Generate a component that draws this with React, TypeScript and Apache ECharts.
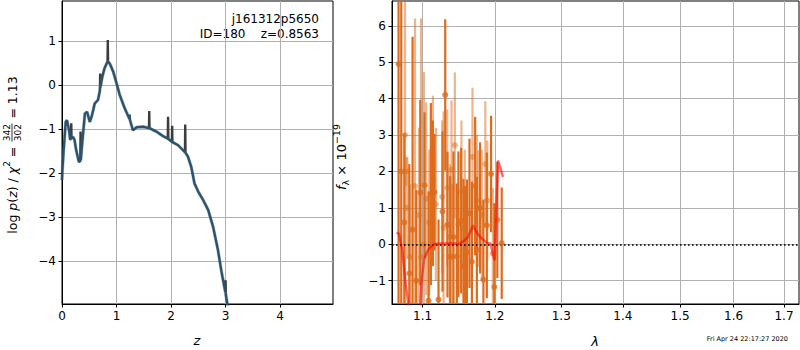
import { useEffect, useRef } from 'react';
import * as echarts from 'echarts';

// ---------- Left panel: log p(z) ----------
const zSmooth = [0.0, 0.007, 0.03, 0.068, 0.09, 0.13, 0.15, 0.2, 0.23, 0.26, 0.31, 0.34, 0.37, 0.42, 0.46, 0.51, 0.55, 0.6, 0.66, 0.7, 0.74, 0.78, 0.83, 0.875, 0.94, 1.0, 1.06, 1.15, 1.24, 1.3, 1.37, 1.49, 1.6, 1.73, 1.85, 1.945, 2.02, 2.13, 2.25, 2.31, 2.37, 2.43, 2.5, 2.59, 2.68, 2.77, 2.86, 2.92, 3.0, 3.03, 3.05];
const logpSmooth = [-2.15, -1.93, -1.47, -0.83, -0.79, -1.02, -1.22, -1.17, -1.24, -1.47, -1.74, -1.7, -1.32, -0.64, -0.6, -0.83, -0.68, -0.41, -0.33, -0.07, 0.2, 0.39, 0.54, 0.5, 0.31, 0.05, -0.22, -0.52, -0.75, -1.02, -0.95, -0.94, -0.97, -1.05, -1.15, -1.21, -1.28, -1.36, -1.51, -1.62, -1.85, -2.23, -2.42, -2.61, -2.83, -3.21, -3.74, -4.2, -4.73, -4.95, -5.1];

const zRaw = [0.0, 0.007, 0.03, 0.068, 0.09, 0.13, 0.15, 0.165, 0.17, 0.175, 0.2, 0.23, 0.26, 0.31, 0.335, 0.34, 0.345, 0.37, 0.42, 0.46, 0.51, 0.55, 0.6, 0.66, 0.695, 0.7, 0.705, 0.74, 0.78, 0.835, 0.84, 0.845, 0.875, 0.94, 1.0, 1.06, 1.15, 1.235, 1.24, 1.245, 1.3, 1.37, 1.49, 1.595, 1.6, 1.605, 1.73, 1.85, 1.94, 1.945, 1.95, 2.015, 2.02, 2.025, 2.13, 2.255, 2.26, 2.265, 2.31, 2.37, 2.43, 2.5, 2.59, 2.68, 2.77, 2.86, 2.92, 2.995, 3.0, 3.005, 3.03, 3.05];
const logpRaw = [-2.15, -1.93, -1.47, -0.83, -0.79, -1.02, -1.24, -1.2, -0.86, -1.2, -1.17, -1.24, -1.47, -1.74, -1.72, -1.05, -1.7, -1.32, -0.64, -0.6, -0.83, -0.68, -0.41, -0.33, -0.12, 0.27, -0.04, 0.2, 0.39, 0.54, 1.03, 0.54, 0.5, 0.31, 0.05, -0.22, -0.52, -0.76, -0.66, -0.78, -1.02, -0.95, -0.94, -0.97, -0.58, -0.97, -1.05, -1.15, -1.21, -0.71, -1.22, -1.28, -0.92, -1.29, -1.36, -1.52, -0.89, -1.53, -1.62, -1.85, -2.23, -2.42, -2.61, -2.83, -3.21, -3.74, -4.2, -4.7, -4.43, -4.76, -4.95, -5.1];

const zTicks = [0, 1, 2, 3, 4];
const logpTicks = [-4, -3, -2, -1, 0, 1];

// ---------- Right panel: spectrum ----------
const darkLam = [1.0686, 1.0721, 1.076, 1.0825, 1.0868, 1.0916, 1.0969, 1.1026, 1.1079, 1.111, 1.1137, 1.1159, 1.1213, 1.1267, 1.1304, 1.1335, 1.1372, 1.1417, 1.1463, 1.1485, 1.1523, 1.1555, 1.1579, 1.1603, 1.1639, 1.1673, 1.1719, 1.1743, 1.1789, 1.1836, 1.1885, 1.1946, 1.1993, 1.2036, 1.21];
const darkFlux = [4.95, 2.0, 0.6, -0.8, 0.4, -1.0, 1.42, 1.62, -1.55, 1.38, 1.4, 1.43, -1.52, 0.9, 4.1, 0.54, -0.33, 0.2, -0.33, 0.55, 0.65, -0.6, -0.6, -0.22, 0.85, -0.48, 1.6, -0.15, 1.0, -0.97, 0.52, 1.93, -1.17, 0.67, 0.03];
const darkErr = [8, 9, 2.45, 3.0, 5.3, 2.5, 2.54, 2.0, 3.0, 2.5, 2.0, 1.6, 2.2, 2.2, 2.08, 2.0, 2.2, 2.35, 2.0, 2.0, 2.0, 2.4, 2.2, 2.0, 2.05, 2.2, 1.9, 2.0, 1.8, 2.2, 2.0, 1.6, 2.3, 1.6, 1.53];

const lightLam = [1.077, 1.0786, 1.0799, 1.0838, 1.09, 1.0952, 1.0979, 1.1018, 1.1048, 1.1088, 1.1137, 1.1177, 1.1263, 1.1281, 1.1331, 1.1368, 1.139, 1.1399, 1.1436, 1.1527, 1.1574, 1.1681, 1.1743, 1.1765, 1.1813, 1.1863, 1.1892, 1.1971];
const lightFlux = [3.0, 2.0, 1.0, -0.35, 1.6, 0.8, -0.35, 0.0, 1.25, 0.6, 1.78, 1.1, 1.3, 0.45, 1.55, 0.2, 2.05, -0.35, 2.72, 1.45, 0.45, 2.4, 1.2, 0.98, 0.8, 2.2, 1.2, -0.25];
const lightErr = [9, 0.4, 1.4, 2.0, 4.6, 2.4, 6.55, 4.73, 2.65, 2.0, 2.3, 2.1, 2.1, 3.2, 2.15, 2.0, 1.9, 2.0, 2.0, 1.95, 2.15, 1.9, 1.8, 1.6, 1.8, 1.73, 1.65, 1.8];

const modelLam = [1.066, 1.0692, 1.0734, 1.0778, 1.0812, 1.085, 1.092, 1.0972, 1.0985, 1.1018, 1.105, 1.1084, 1.115, 1.125, 1.135, 1.145, 1.1481, 1.1565, 1.162, 1.1649, 1.169, 1.172, 1.176, 1.18, 1.185, 1.19, 1.194, 1.1975, 1.2, 1.202, 1.2047, 1.208, 1.2118];
const modelFlux = [0.32, 0.29, -0.16, -1.08, -1.62, -3.0, -3.0, -1.62, -1.08, -0.44, -0.25, -0.12, 0.0, 0.02, 0.02, 0.02, 0.0, 0.1, 0.2, 0.34, 0.52, 0.4, 0.27, 0.18, 0.1, 0.03, 0.02, -0.3, -0.44, 1.0, 2.3, 2.1, 1.85];

const lamTicks = [1.1, 1.2, 1.3, 1.4, 1.5, 1.6, 1.7];
const fluxTicks = [-1, 0, 1, 2, 3, 4, 5, 6];

const FONT = '"DejaVu Sans", sans-serif';
const ORANGE = '#dd6b1c';
const ORANGE_LIGHT = 'rgba(221,107,28,0.5)';

function measure(text: string, font: string): number {
  const c = document.createElement('canvas').getContext('2d');
  if (!c) return text.length * 7;
  c.font = font;
  return c.measureText(text).width;
}

function minusFmt(v: number) {
  return String(Math.round(v * 10) / 10).replace('-', '\u2212');
}

function errRender(color: string) {
  return (params: any, api: any) => {
    const x = api.value(0);
    const y = api.value(1);
    const e = api.value(2);
    const p1 = api.coord([x, y + e]);
    const p2 = api.coord([x, y - e]);
    const cs = params.coordSys;
    const yt = Math.max(p1[1], cs.y);
    const yb = Math.min(p2[1], cs.y + cs.height);
    if (yb <= yt) return null;
    return {
      type: 'line',
      shape: { x1: p1[0], y1: yt, x2: p1[0], y2: yb },
      style: { stroke: color, lineWidth: 2.2 },
    };
  };
}

export default function App() {
  const ref = useRef<HTMLDivElement>(null);
  useEffect(() => {
    if (!ref.current) return;
    const chart = echarts.init(ref.current, null, { renderer: 'svg' });

    const fs = 12;
    const lfs = 12.5;
    const nFont = `${lfs}px "DejaVu Sans"`;
    const iFont = `italic ${lfs}px "DejaVu Sans"`;
    const sFont = `9px "DejaVu Sans"`;
    const segs: [string, string][] = [['log ', 'n'], ['p', 'i'], ['(', 'n'], ['z', 'i'], [') / ', 'n'], ['\u03c7', 'i'], ['2', 's'], [' = ', 'n']];
    const fontOf: Record<string, string> = { n: nFont, i: iFont, s: sFont };
    const wA = segs.reduce((a, [t, k]) => a + measure(t, fontOf[k]), 0);
    const fw = measure('342', sFont) + 3;
    const textB = ' = 1.13';
    const wB = measure(textB, nFont);
    const W = wA + fw + wB;
    const aEnd = -W / 2 + wA;
    const richA = segs.map(([t, k]) => `{${k}|${t}}`).join('');
    const rich = {
      n: { fontSize: lfs, fontFamily: FONT, lineHeight: 19, fill: '#000' },
      i: { fontSize: lfs, fontFamily: FONT, fontStyle: 'italic', lineHeight: 19, fill: '#000' },
      s: { fontSize: 9, fontFamily: FONT, lineHeight: 12, verticalAlign: 'top', fill: '#000' },
      b: { fontSize: 9, fontFamily: FONT, lineHeight: 12, verticalAlign: 'bottom', fill: '#000' },
    };
    const rich2 = {
      n: { fontSize: 13, fontFamily: FONT, lineHeight: 19, fill: '#000' },
      i: { fontSize: 13, fontFamily: FONT, fontStyle: 'italic', lineHeight: 19, fill: '#000' },
      s: { fontSize: 9.5, fontFamily: FONT, lineHeight: 12, verticalAlign: 'top', fill: '#000' },
      b: { fontSize: 9.5, fontFamily: FONT, lineHeight: 12, verticalAlign: 'bottom', fill: '#000' },
    };

    const axisCommon = (ticks: number[], fmt: (v: number) => string) => ({
      type: 'value' as const,
      axisLine: { show: true, onZero: false, lineStyle: { color: '#000', width: 1 } },
      axisTick: { show: true, length: 3.5, customValues: ticks, lineStyle: { color: '#000', width: 1 } },
      axisLabel: { customValues: ticks, fontSize: fs, color: '#000', fontFamily: FONT, margin: 6, formatter: fmt },
      splitLine: { show: true, lineStyle: { color: '#b0b0b0', width: 1 } },
    });

    const lnTicks = lamTicks.map((l) => Math.log(l));

    const option: any = {
      animation: false,
      grid: [
        { left: 62, top: 1, width: 271, height: 303, show: true, borderColor: '#000', borderWidth: 1 },
        { left: 392, top: 1, width: 407, height: 303, show: true, borderColor: '#000', borderWidth: 1 },
      ],
      xAxis: [
        { gridIndex: 0, min: 0, max: 4.97, ...axisCommon(zTicks, minusFmt) },
        { gridIndex: 1, min: Math.log(1.0602), max: Math.log(1.731), ...axisCommon(lnTicks, (v: number) => Math.exp(v).toFixed(1)) },
      ],
      yAxis: [
        { gridIndex: 0, min: -4.97, max: 1.92, ...axisCommon(logpTicks, minusFmt) },
        { gridIndex: 1, min: -1.64, max: 6.68, ...axisCommon(fluxTicks, minusFmt) },
      ],
      series: [
        {
          type: 'line', xAxisIndex: 0, yAxisIndex: 0, showSymbol: false, z: 2,
          data: zRaw.map((z, i) => [z, logpRaw[i]]),
          lineStyle: { color: '#333333', width: 2.4, opacity: 0.95 },
        },
        {
          type: 'line', xAxisIndex: 0, yAxisIndex: 0, showSymbol: false, z: 3,
          data: zSmooth.map((z, i) => [z, logpSmooth[i]]),
          lineStyle: { color: 'rgb(31,119,180)', width: 3.4, opacity: 0.35 },
        },
        {
          type: 'custom', xAxisIndex: 1, yAxisIndex: 1, z: 2,
          renderItem: errRender(ORANGE_LIGHT),
          encode: { x: 0, y: 1 },
          data: lightLam.map((l, i) => [Math.log(l), lightFlux[i], lightErr[i]]),
        },
        {
          type: 'scatter', xAxisIndex: 1, yAxisIndex: 1, z: 3, symbolSize: 6,
          itemStyle: { color: ORANGE, opacity: 0.5 },
          data: lightLam.map((l, i) => [Math.log(l), lightFlux[i]]),
        },
        {
          type: 'custom', xAxisIndex: 1, yAxisIndex: 1, z: 4,
          renderItem: errRender(ORANGE),
          encode: { x: 0, y: 1 },
          data: darkLam.map((l, i) => [Math.log(l), darkFlux[i], darkErr[i]]),
        },
        {
          type: 'scatter', xAxisIndex: 1, yAxisIndex: 1, z: 5, symbolSize: 6,
          itemStyle: { color: ORANGE },
          data: darkLam.map((l, i) => [Math.log(l), darkFlux[i]]),
        },
        {
          type: 'line', xAxisIndex: 1, yAxisIndex: 1, showSymbol: false, z: 6,
          data: modelLam.map((l, i) => [Math.log(l), modelFlux[i]]),
          lineStyle: { color: 'rgba(255,0,0,0.6)', width: 2.4 },
          markLine: {
            silent: true, symbol: 'none', label: { show: false },
            lineStyle: { color: '#000', width: 1.6, type: [1.6, 2.4] },
            data: [{ yAxis: 0 }],
          },
        },
      ],
      graphic: [
        { type: 'text', x: 319, y: 19, style: { text: 'j161312p5650', font: `${fs}px ${FONT}`, fill: '#000', align: 'right', verticalAlign: 'middle', textAlign: 'right', textVerticalAlign: 'middle' } },
        { type: 'text', x: 319, y: 34, style: { text: 'ID=180    z=0.8563', font: `${fs}px ${FONT}`, fill: '#000', align: 'right', verticalAlign: 'middle', textAlign: 'right', textVerticalAlign: 'middle' } },
        { type: 'text', x: 197, y: 340, style: { text: 'z', font: `italic 13px ${FONT}`, fill: '#000', align: 'center', verticalAlign: 'middle', textAlign: 'center', textVerticalAlign: 'middle' } },
        { type: 'text', x: 595, y: 341, style: { text: '\u03bb', font: `italic 13px ${FONT}`, fill: '#000', align: 'center', verticalAlign: 'middle', textAlign: 'center', textVerticalAlign: 'middle' } },
        { type: 'text', x: 788, y: 339, style: { text: 'Fri Apr 24 22:17:27 2020', font: `6.5px ${FONT}`, fill: '#000', align: 'right', verticalAlign: 'middle', textAlign: 'right', textVerticalAlign: 'middle' } },
        {
          type: 'text', x: 341, y: 157, rotation: Math.PI / 2,
          style: {
            text: '{i|f}{b|\u03bb}{n| \u00d7 10}{s|\u221219}',
            rich: rich2, align: 'center', verticalAlign: 'middle', textAlign: 'center', textVerticalAlign: 'middle',
          },
        },
        {
          type: 'group', x: 12, y: 155, rotation: Math.PI / 2,
          children: [
            { type: 'text', x: aEnd, y: 0, style: { text: richA, rich, align: 'right', verticalAlign: 'middle', textAlign: 'right', textVerticalAlign: 'middle' } },
            { type: 'text', x: aEnd + fw / 2, y: -5.5, style: { text: '342', font: `9px ${FONT}`, fill: '#000', align: 'center', verticalAlign: 'middle', textAlign: 'center', textVerticalAlign: 'middle' } },
            { type: 'line', shape: { x1: aEnd + 1, y1: 0, x2: aEnd + fw - 1, y2: 0 }, style: { stroke: '#000', lineWidth: 0.8 } },
            { type: 'text', x: aEnd + fw / 2, y: 5.5, style: { text: '302', font: `9px ${FONT}`, fill: '#000', align: 'center', verticalAlign: 'middle', textAlign: 'center', textVerticalAlign: 'middle' } },
            { type: 'text', x: aEnd + fw, y: 0, style: { text: textB, font: `${lfs}px ${FONT}`, fill: '#000', align: 'left', verticalAlign: 'middle', textAlign: 'left', textVerticalAlign: 'middle' } },
          ],
        },
      ],
    };
    chart.setOption(option);
    return () => chart.dispose();
  }, []);
  return <div ref={ref} style={{ position: 'absolute', left: 0, top: 0, width: 800, height: 350 }} />;
}
